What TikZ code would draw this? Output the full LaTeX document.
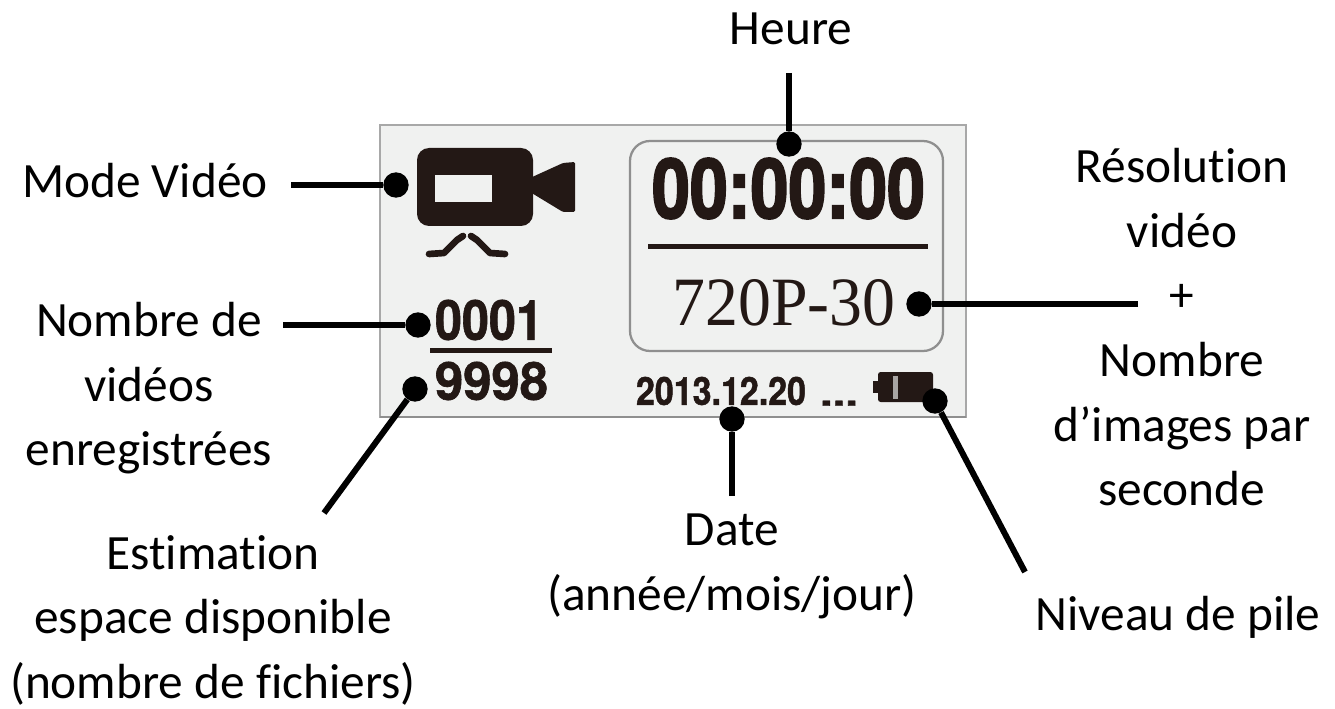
\documentclass[tikz,border=0pt]{standalone}
\usepackage{fontspec}
\usepackage{graphicx}
\setmainfont[Ligatures=NoCommon]{Carlito}
\newfontfamily\heros[FakeBold=2.5]{TeX Gyre Heros Bold}
\newfontfamily\herost[FakeBold=1.2]{TeX Gyre Heros Bold}
\newfontfamily\libserif{Liberation Serif}
\definecolor{ink}{HTML}{231815}
\definecolor{panel}{HTML}{F0F1F0}
\definecolor{edge}{HTML}{A8A8A8}
\tikzset{
  lbl/.style={align=center,inner sep=0pt,font=\fontsize{37}{48.5}\selectfont,text=black},
  dot/.style={circle,fill=black,inner sep=0pt,minimum size=19pt},
  conn/.style={line width=4.5pt,black},
  lcd/.style={inner sep=0pt,text=ink},
}
\newlength{\pxu}\setlength{\pxu}{0.75pt}
\begin{document}
\begin{tikzpicture}[x=0.75pt,y=-0.75pt]
\useasboundingbox (0,0) rectangle (1335,709);
\fill[white] (0,0) rectangle (1335,709);
% panel
\draw[fill=panel,draw=edge,line width=2pt] (380,125) rectangle (966,417);
\draw[draw=edge!85!black,line width=1.9pt] (380,417) -- (966,417);
\draw[draw=edge!85!black,line width=1.7pt,rounded corners=15pt] (630,141) rectangle (943,351);
% camera
\fill[ink,rounded corners=9pt] (417,148) rectangle (533,226);
\fill[panel] (435,175) rectangle (492,202);
\fill[ink,rounded corners=1pt] (530,178) -- (563,163) -- (575,162) -- (575,212) -- (563,212) -- (530,192) -- cycle;
\draw[ink,line width=5pt,line cap=round,line join=round] (429,254) -- (444,253) -- (457,240) -- (463,236);
\draw[ink,line width=5pt,line cap=round,line join=round] (471,236) -- (477,240) -- (490,253) -- (505,254);
% texts in the panel
\node[lcd] (time) at (788.5,188.5) {\resizebox{273\pxu}{60\pxu}{\heros 00:00:00}};
\fill[ink] (648,244.5) rectangle (928,249.5);
\node[lcd] (res) at (784,303) {\resizebox{223\pxu}{46\pxu}{\libserif 720P-30}};
\node[lcd] (used) at (489,320) {\resizebox{108\pxu}{40\pxu}{\herost 0001}};
\fill[ink] (430,347.5) rectangle (552,352.5);
\node[lcd] (free) at (491.5,381) {\resizebox{113\pxu}{38\pxu}{\herost 9998}};
\node[lcd] (datetxt) at (721,391) {\resizebox{170\pxu}{28\pxu}{\herost 2013.12.20}};
\node[lcd,anchor=south] (dots) at (839,406) {\resizebox{38\pxu}{5\pxu}{\herost ...}};
% battery
\fill[ink,rounded corners=2pt] (878,372) rectangle (933,402);
\fill[ink] (873,381) rectangle (879,393);
\fill[panel!65!ink] (893,376) rectangle (898,399);
% labels
\node[lbl,anchor=base] (heure) at (791,45) {Heure};
\node[lbl,anchor=base] (mode) at (145,198) {Mode Vidéo};
\node[lbl,anchor=north] (nombre) at (149,302) {Nombre de\\vidéos\\enregistrées};
\node[lbl,anchor=north] (estim) at (213,535) {Estimation\\espace disponible\\(nombre de fichiers)};
\node[lbl,anchor=north] (date) at (732,514) {Date\\(année/mois/jour)};
\node[lbl,anchor=base] (pile) at (1178,630) {Niveau de pile};
\node[lbl,anchor=north] (reso) at (1182,148) {Résolution\\vidéo\\+\\Nombre\\d’images par\\seconde};
% dots
\node[dot] (dHeure) at (789,144) {};
\node[dot] (dMode) at (396,185) {};
\node[dot] (dNombre) at (418,325) {};
\node[dot] (dEstim) at (415,389) {};
\node[dot] (dReso) at (919,304) {};
\node[dot] (dDate) at (732,419) {};
\node[dot] (dPile) at (935,401) {};
% free ends
\coordinate (cHeure) at (789,73);
\coordinate (cMode) at (291,185);
\coordinate (cNombre) at (283,325);
\coordinate (cEstim) at (324,513);
\coordinate (cReso) at (1138,304);
\coordinate (cDate) at (732,496);
\coordinate (cPile) at (1025,572);
\draw[conn] (cHeure) -- (dHeure);
\draw[conn] (cMode) -- (dMode);
\draw[conn] (cNombre) -- (dNombre);
\draw[conn] (cEstim) -- (dEstim);
\draw[conn] (cReso) -- (dReso);
\draw[conn] (cDate) -- (dDate);
\draw[conn] (cPile) -- (dPile);
\end{tikzpicture}
\end{document}
